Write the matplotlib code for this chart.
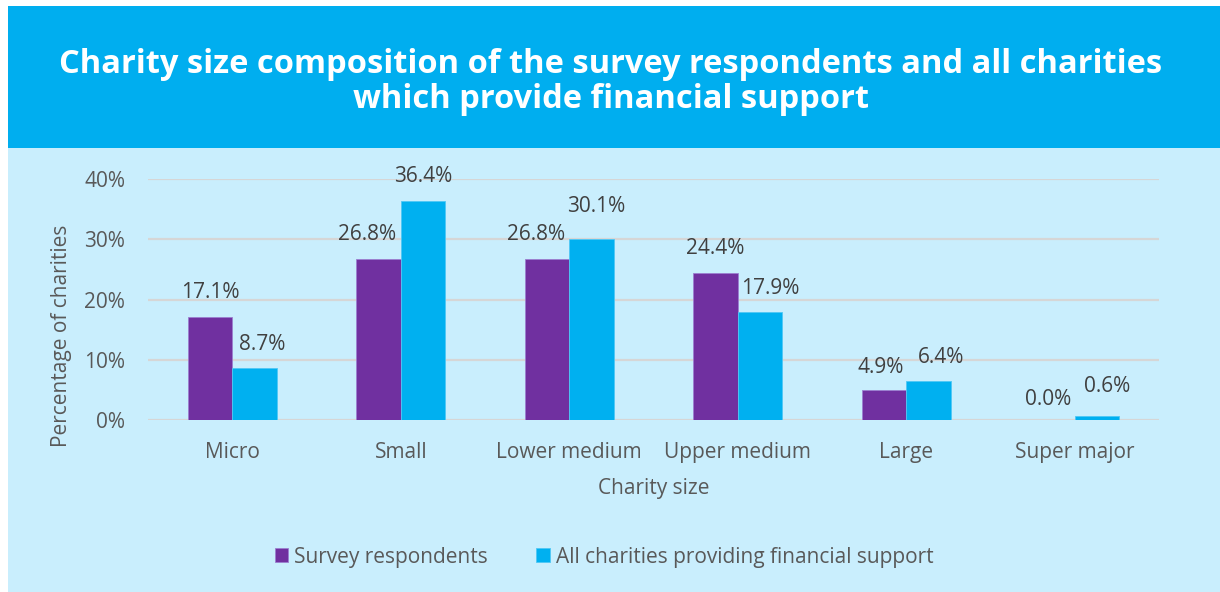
import matplotlib
matplotlib.use("Agg")
import matplotlib.pyplot as plt
import numpy as np
from matplotlib.patches import Rectangle

categories = ["Micro", "Small", "Lower medium", "Upper medium", "Large", "Super major"]
survey_respondents = [17.1, 26.8, 26.8, 24.4, 4.9, 0.0]
all_charities = [8.7, 36.4, 30.1, 17.9, 6.4, 0.6]
series_names = ["Survey respondents", "All charities providing financial support"]
y_ticks = [0, 10, 20, 30, 40]

# nudges (x in category units, y in percentage points) that keep neighbouring value labels apart
survey_label_dx = [0.0, -0.068, -0.065, 0.0, -0.02, -0.024]
survey_label_dy = [0.0, 0.0, 0.0, 0.0, -0.15, -0.66]
all_label_dx = [0.045, 0.0, 0.03, 0.062, 0.074, 0.06]
all_label_dy = [-0.23, 0.0, 1.26, 0.0, 0.0, 1.0]

PURPLE = "#7030A0"
BLUE = "#00B0F0"
BANNER = "#00AEEF"
PANEL = "#C9EEFD"
GRID = "#D6D6D6"
TICK_GREY = "#595959"
LABEL_GREY = "#404040"
FONT = "Open Sans"

W, H = 1220, 592
fig = plt.figure(figsize=(W / 100, H / 100), dpi=100)
fig.patch.set_facecolor("white")

# background panels
fig.add_artist(Rectangle((8 / W, 0), 1 - 8 / W, 1 - 148 / H, transform=fig.transFigure,
                         facecolor=PANEL, edgecolor="none", zorder=0))
fig.add_artist(Rectangle((8 / W, 1 - 148 / H), 1 - 8 / W, (148 - 6) / H, transform=fig.transFigure,
                         facecolor=BANNER, edgecolor="none", zorder=0))

fig.text(611 / W, 1 - 82 / H,
         "Charity size composition of the survey respondents and all charities\nwhich provide financial support",
         ha="center", va="center", color="white", fontsize=23.5, fontweight="bold",
         family=FONT, linespacing=1.1)

ax = fig.add_axes([148 / W, 1 - 420 / H, (1159 - 148) / W, (420 - 179) / H])
ax.set_facecolor("none")

x = np.arange(len(categories))
bw = 0.264
b1 = ax.bar(x - bw / 2, survey_respondents, bw, color=PURPLE, edgecolor="#9B7FD0", linewidth=0.6,
            label=series_names[0], zorder=3)
b2 = ax.bar(x + bw / 2, all_charities, bw, color=BLUE, edgecolor="#4FC8F5", linewidth=0.6,
            label=series_names[1], zorder=3)

lab_font = dict(family=FONT, fontsize=15, color=LABEL_GREY)
for xi, v, dx, dy in zip(x - bw / 2, survey_respondents, survey_label_dx, survey_label_dy):
    ax.text(xi + dx, v + 4.0 + dy, f"{v:.1f}%", ha="center", va="center", **lab_font)
for xi, v, dx, dy in zip(x + bw / 2, all_charities, all_label_dx, all_label_dy):
    ax.text(xi + dx, v + 4.0 + dy, f"{v:.1f}%", ha="center", va="center", **lab_font)

ax.set_xlim(-0.5, len(categories) - 0.5)
ax.set_ylim(0, 40)
ax.set_yticks(y_ticks)
ax.set_yticklabels([f"{t}%" for t in y_ticks])
ax.set_xticks(x)
ax.set_xticklabels(categories)
ax.tick_params(axis="both", length=0, colors=TICK_GREY, labelsize=15)
ax.tick_params(axis="y", pad=16.5)
ax.tick_params(axis="x", pad=16)
for lbl in ax.get_xticklabels() + ax.get_yticklabels():
    lbl.set_family(FONT)

ax.yaxis.grid(True, color=GRID, linewidth=1.6, zorder=0)
ax.set_axisbelow(True)
for s in ax.spines.values():
    s.set_visible(False)

ax.set_xlabel("Charity size", family=FONT, fontsize=15, color=TICK_GREY, va="center")
ax.xaxis.set_label_coords(0.5, (420 - 489) / 241)
ax.set_ylabel("Percentage of charities", family=FONT, fontsize=15, color=TICK_GREY, va="center")
ax.yaxis.set_label_coords((62 - 148) / 1011, (420 - 336) / 241)

fig.legend(handles=[b1, b2], labels=series_names, loc="center", bbox_to_anchor=(604 / W, 1 - 557 / H),
           ncol=2, frameon=False, prop=dict(family=FONT, size=15),
           labelcolor=TICK_GREY, handlelength=0.65, handleheight=0.65, handletextpad=0.3,
           columnspacing=2.3)

fig.savefig("out.png", dpi=100, facecolor=fig.get_facecolor())
